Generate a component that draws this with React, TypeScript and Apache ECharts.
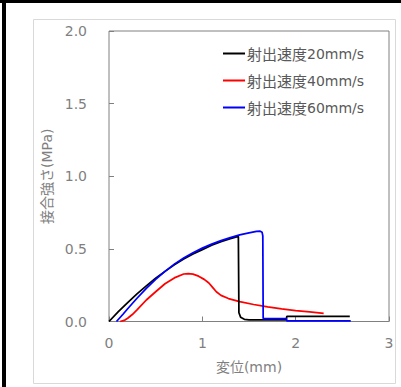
import React, { useEffect, useRef } from "react";
import * as echarts from "echarts";

const seriesNames = ["射出速度20mm/s", "射出速度40mm/s", "射出速度60mm/s"];

const x20 = [0, 0.1, 0.2, 0.3, 0.4, 0.5, 0.6, 0.7, 0.8, 0.9, 1.0, 1.1, 1.2, 1.3, 1.386, 1.392, 1.41, 1.45, 1.5, 1.9, 1.905, 2.58];
const y20 = [0, 0.068, 0.13, 0.19, 0.245, 0.298, 0.345, 0.39, 0.43, 0.465, 0.495, 0.525, 0.55, 0.57, 0.586, 0.06, 0.03, 0.015, 0.012, 0.012, 0.035, 0.035];

const x40 = [0.12, 0.17, 0.2, 0.25, 0.3, 0.4, 0.5, 0.6, 0.7, 0.8, 0.85, 0.9, 0.96, 1.02, 1.07, 1.11, 1.15, 1.2, 1.28, 1.4, 1.55, 1.7, 1.85, 2.0, 2.15, 2.3];
const y40 = [0, 0.01, 0.022, 0.048, 0.08, 0.148, 0.205, 0.26, 0.3, 0.327, 0.33, 0.326, 0.312, 0.29, 0.265, 0.235, 0.205, 0.18, 0.158, 0.137, 0.117, 0.1, 0.087, 0.075, 0.066, 0.056];

const x60 = [0.08, 0.15, 0.2, 0.3, 0.4, 0.5, 0.6, 0.7, 0.8, 0.9, 1.0, 1.1, 1.2, 1.3, 1.4, 1.5, 1.58, 1.62, 1.64, 1.648, 1.652, 1.9, 1.905, 2.59];
const y60 = [0, 0.05, 0.088, 0.16, 0.228, 0.29, 0.345, 0.395, 0.437, 0.473, 0.505, 0.533, 0.557, 0.578, 0.596, 0.61, 0.62, 0.622, 0.615, 0.59, 0.02, 0.02, 0.004, 0.004];

const xTicks = [0, 1, 2, 3];
const yTicks = [0, 0.5, 1.0, 1.5, 2.0];

const zip = (xs: number[], ys: number[]) => xs.map((v, i) => [v, ys[i]]);

export default function App() {
  const ref = useRef<HTMLDivElement>(null);
  useEffect(() => {
    if (!ref.current) return;
    const chart = echarts.init(ref.current, undefined, { renderer: "svg" });
    const colors = ["#000000", "#ff0000", "#0000ff"];
    const data = [zip(x20, y20), zip(x40, y40), zip(x60, y60)];
    const numFont = "DejaVu Sans, Noto Sans CJK JP, sans-serif";
    chart.setOption({
      animation: false,
      backgroundColor: "#ffffff",
      graphic: [
        { type: "rect", shape: { x: 33.5, y: 19.5, width: 362, height: 364 }, style: { fill: "none", stroke: "#d9d9d9", lineWidth: 1 }, z: -1 },
        { type: "rect", shape: { x: 0, y: 0, width: 401, height: 3 }, style: { fill: "#000000" } },
        { type: "rect", shape: { x: 2, y: 0, width: 4, height: 387 }, style: { fill: "#000000" } },
      ],
      grid: {
        left: 109,
        right: 12,
        top: 31,
        bottom: 65.5,
        show: true,
        borderColor: "#808080",
        borderWidth: 1,
      },
      legend: {
        orient: "vertical",
        left: 218,
        top: 41,
        itemWidth: 22,
        itemHeight: 2,
        itemGap: 12,
        icon: "path://M0 0H22V2H0Z",
        itemStyle: { borderWidth: 0 },
        data: seriesNames,
        formatter: (name: string) => `{c|${name.slice(0, 4)}}{l|${name.slice(4)}}`,
        textStyle: {
          color: "#595959",
          padding: [0, 0, 0, -3],
          rich: {
            c: { fontFamily: "Noto Sans CJK JP", fontSize: 15, color: "#595959", lineHeight: 14 },
            l: { fontFamily: "DejaVu Sans", fontSize: 14, color: "#595959", lineHeight: 14 },
          },
        },
      },
      xAxis: {
        type: "value",
        min: xTicks[0],
        max: xTicks[xTicks.length - 1],
        interval: 1,
        name: "変位(mm)",
        nameLocation: "middle",
        nameGap: 38,
        nameTextStyle: { color: "#7f7f7f", fontSize: 14, fontFamily: numFont },
        axisLine: { show: false },
        axisTick: { show: true, inside: true, length: 5, lineStyle: { color: "#808080" } },
        axisLabel: { color: "#7f7f7f", fontSize: 14, fontFamily: numFont, margin: 14 },
        splitLine: { show: false },
      },
      yAxis: {
        type: "value",
        min: yTicks[0],
        max: yTicks[yTicks.length - 1],
        interval: 0.5,
        name: "接合強さ(MPa)",
        nameLocation: "middle",
        nameGap: 54,
        nameRotate: 90,
        nameTextStyle: { color: "#7f7f7f", fontSize: 14, fontFamily: numFont },
        axisLine: { show: false },
        axisTick: { show: true, inside: true, length: 5, lineStyle: { color: "#808080" } },
        axisLabel: {
          color: "#7f7f7f",
          fontSize: 14,
          fontFamily: numFont,
          margin: 22,
          formatter: (v: number) => v.toFixed(1),
        },
        splitLine: { show: false },
      },
      series: seriesNames.map((n, i) => ({
        name: n,
        type: "line",
        data: data[i],
        symbol: "none",
        smooth: false,
        lineStyle: { color: colors[i], width: 1.75 },
        itemStyle: { color: colors[i] },
        z: i === 2 ? 3 : i === 0 ? 2 : 1,
      })),
    });
    return () => chart.dispose();
  }, []);
  return (
    <div
      ref={ref}
      style={{ position: "fixed", left: 0, top: 0, width: 401, height: 387, background: "#fff" }}
    />
  );
}
